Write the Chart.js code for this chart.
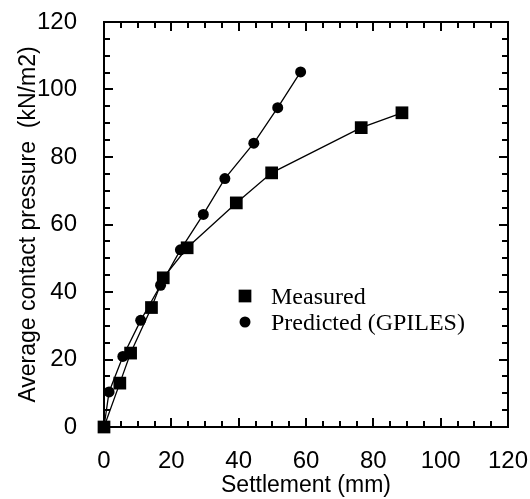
<!DOCTYPE html>
<html><head><meta charset="utf-8">
<script src="https://cdn.jsdelivr.net/npm/chart.js@4.4.1/dist/chart.umd.min.js"></script>
<style>html,body{margin:0;padding:0;background:#fff;}#wrap{width:530px;height:499px;}</style>
</head><body><div id="wrap"><canvas id="c" width="530" height="499"></canvas></div>
<script>
// ---- data ----
const seriesNames = ['Measured', 'Predicted (GPILES)'];
const measuredX = [0, 4.7, 7.9, 14.1, 17.6, 24.7, 39.3, 49.8, 76.4, 88.5];
const measuredY = [0, 13.0, 21.9, 35.4, 44.2, 53.1, 66.4, 75.3, 88.7, 93.1];
const predictedX = [0, 1.5, 5.6, 10.9, 16.8, 22.7, 29.5, 35.9, 44.5, 51.6, 58.4];
const predictedY = [0, 10.4, 20.9, 31.6, 42.0, 52.5, 63.0, 73.6, 84.1, 94.6, 105.2];
const xTicks = [0, 20, 40, 60, 80, 100, 120];
const yTicks = [0, 20, 40, 60, 80, 100, 120];
const minorStep = 5;
const xTitle = 'Settlement (mm)';
const yTitle = 'Average contact pressure  (kN/m2)';

const toPts = (xs, ys) => xs.map((x, i) => ({x: x, y: ys[i]}));

const sansFont = "'Liberation Sans', Arial, sans-serif";
const serifFont = "'Liberation Serif', 'Times New Roman', serif";

const zeroPad = s => { s.paddingTop = 0; s.paddingBottom = 0; s.paddingLeft = 0; s.paddingRight = 0; };

const framePlugin = {
  id: 'frame',
  beforeDatasetsDraw(chart) {
    const ctx = chart.ctx, ca = chart.chartArea;
    const xs = chart.scales.x, ys = chart.scales.y;
    ctx.save();
    ctx.strokeStyle = '#000';
    ctx.lineWidth = 2;
    ctx.strokeRect(ca.left, ca.top, ca.right - ca.left, ca.bottom - ca.top);
    ctx.lineWidth = 2;
    ctx.beginPath();
    for (let v = xs.min; v <= xs.max + 1e-9; v += minorStep) {
      const len = xTicks.includes(v) ? 9 : 6;
      const px = Math.round(xs.getPixelForValue(v));
      ctx.moveTo(px, ca.bottom); ctx.lineTo(px, ca.bottom - len);
      ctx.moveTo(px, ca.top); ctx.lineTo(px, ca.top + len);
    }
    for (let v = ys.min; v <= ys.max + 1e-9; v += minorStep) {
      const len = yTicks.includes(v) ? 9 : 6;
      const py = Math.round(ys.getPixelForValue(v));
      ctx.moveTo(ca.left, py); ctx.lineTo(ca.left + len, py);
      ctx.moveTo(ca.right, py); ctx.lineTo(ca.right - len, py);
    }
    ctx.stroke();
    ctx.restore();
  },
  afterDraw(chart) {
    const ctx = chart.ctx, ca = chart.chartArea;
    const mx = ca.left + 141, my = ca.top + 274, gap = 26, tx = ca.left + 167;
    ctx.save();
    ctx.fillStyle = '#000';
    ctx.font = "24px " + serifFont;
    ctx.textBaseline = 'middle';
    ctx.textAlign = 'left';
    chart.data.datasets.forEach((ds, i) => {
      const y = my + i * gap;
      Chart.helpers.drawPoint(ctx, {pointStyle: ds.pointStyle, radius: ds.pointRadius, rotation: 0, borderWidth: 0}, mx, y);
      ctx.fillStyle = '#000';
      ctx.fillText(ds.label, tx, y + 2);
    });
    ctx.restore();
  }
};

new Chart(document.getElementById('c'), {
  type: 'scatter',
  data: {
    datasets: [
      {label: seriesNames[0], data: toPts(measuredX, measuredY), showLine: true,
       borderColor: '#000', borderWidth: 1.3, backgroundColor: '#000',
       pointStyle: 'rect', pointRadius: 9, pointBorderWidth: 0, clip: false},
      {label: seriesNames[1], data: toPts(predictedX, predictedY), showLine: true,
       borderColor: '#000', borderWidth: 1.3, backgroundColor: '#000',
       pointStyle: 'circle', pointRadius: 5.5, pointBorderWidth: 0, clip: false}
    ]
  },
  options: {
    responsive: false,
    animation: false,
    devicePixelRatio: 1,
    layout: {padding: {top: 22, right: 22, left: 0, bottom: 0}},
    plugins: {legend: {display: false}, tooltip: {enabled: false}},
    scales: {
      x: {
        type: 'linear', min: 0, max: 120,
        afterBuildTicks: s => { s.ticks = xTicks.map(v => ({value: v})); },
        afterFit: s => { s.height = 72; zeroPad(s); },
        grid: {display: false}, border: {display: false},
        ticks: {color: '#000', font: {family: sansFont, size: 24}, padding: 12, maxRotation: 0},
        title: {display: true, text: xTitle, color: '#000', font: {family: sansFont, size: 23}, padding: {top: 0, bottom: 0}}
      },
      y: {
        type: 'linear', min: 0, max: 120,
        afterBuildTicks: s => { s.ticks = yTicks.map(v => ({value: v})); },
        afterFit: s => { s.width = 104; zeroPad(s); },
        grid: {display: false}, border: {display: false},
        ticks: {color: '#000', font: {family: sansFont, size: 24}, padding: 19},
        title: {display: true, text: yTitle, color: '#000', font: {family: sansFont, size: 23}, padding: {top: 15, bottom: 0}}
      }
    }
  },
  plugins: [framePlugin]
});
</script></body></html>
